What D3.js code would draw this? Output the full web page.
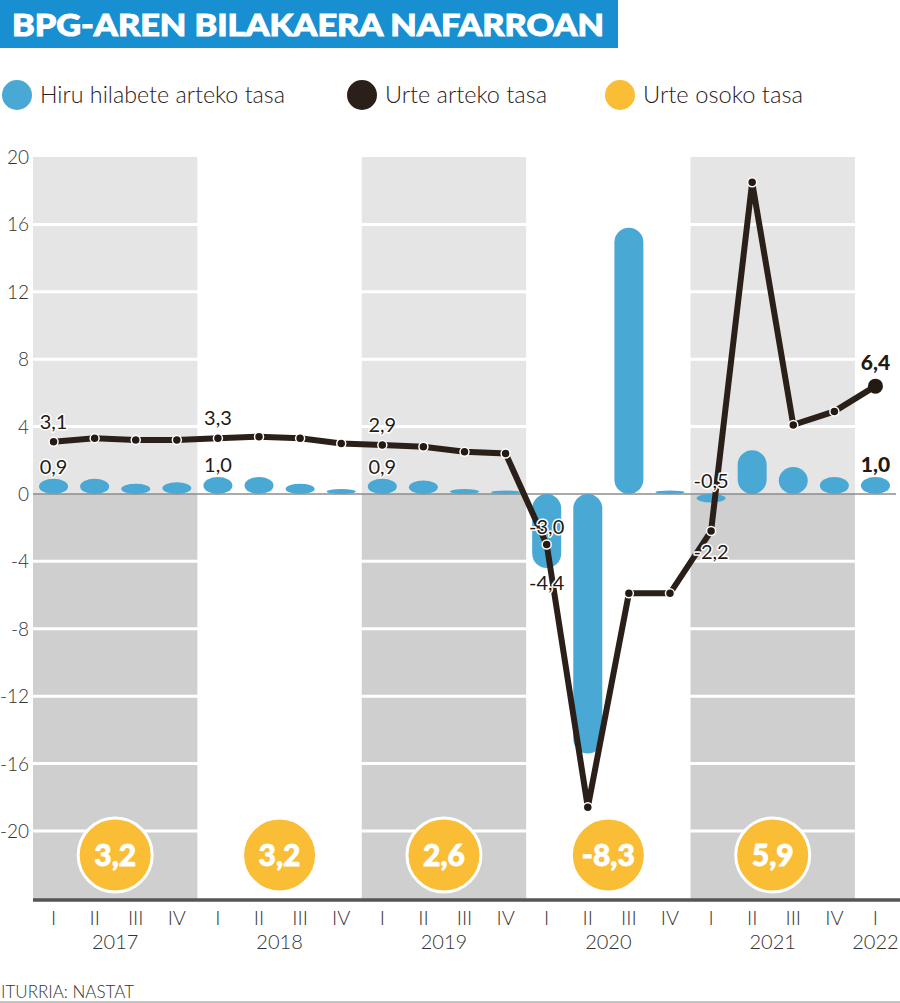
<!DOCTYPE html>
<html><head><meta charset="utf-8">
<script src="https://cdn.jsdelivr.net/npm/d3@7"></script>
<style>
body{margin:0;background:#fff;}
svg text{font-family:Lato,"Open Sans",sans-serif;}
</style></head>
<body><svg id="c" width="900" height="1003"></svg>
<script>
const quarters = ["I","II","III","IV","I","II","III","IV","I","II","III","IV","I","II","III","IV","I","II","III","IV","I"];
const years = ["2017","2018","2019","2020","2021","2022"];
const quarterly = [0.9,0.9,0.6,0.7, 1.0,1.0,0.6,0.3, 0.9,0.8,0.3,0.2, -4.4,-15.4,15.8,0.2, -0.5,2.6,1.6,1.0, 1.0];
const yearOnYear = [3.1,3.3,3.2,3.2, 3.3,3.4,3.3,3.0, 2.9,2.8,2.5,2.4, -3.0,-18.6,-5.9,-5.9, -2.2,18.5,4.1,4.9, 6.4];
const annual = [3.2,3.2,2.6,-8.3,5.9];
const yTicks = [20,16,12,8,4,0,-4,-8,-12,-16,-20];
const legendLabels = ["Hiru hilabete arteko tasa","Urte arteko tasa","Urte osoko tasa"];
const title = "BPG-AREN BILAKAERA NAFARROAN";
const source = "ITURRIA: NASTAT";

const C = {blue:"#4aa8d4", dark:"#2a2019", yellow:"#f9bd36", title:"#178fd1", bandUp:"#e5e5e5", bandDn:"#cfcfcf"};
const fmt = v => d3.format(".1f")(v).replace(".", ",").replace("−","-");

const svg = d3.select("#c");
const L = 33, R = 896, T = 157, B = 900;
const x = d3.scaleBand().domain(d3.range(quarters.length)).range([L, R]).padding(0);
const y = d3.scaleLinear().domain([-24.1, 20]).range([B, T]);
const bw = x.bandwidth();
const cx = i => x(i) + bw/2;

// title
svg.append("rect").attr("x",0).attr("y",0).attr("width",618).attr("height",48).attr("fill",C.title);
svg.append("text").attr("x",12).attr("y",36).attr("fill","#fff").attr("font-size",31).attr("font-weight",900)
  .attr("stroke","#fff").attr("stroke-width",1)
  .attr("textLength",592).attr("lengthAdjust","spacingAndGlyphs").text(title);

// legend
const legX = [17, 362, 620], legC = [C.blue, C.dark, C.yellow];
const legW = [245, 162, 160];
legendLabels.forEach((t,i)=>{
  svg.append("circle").attr("cx",legX[i]).attr("cy",95).attr("r",15).attr("fill",legC[i]);
  svg.append("text").attr("x",legX[i]+23).attr("y",103).attr("font-size",23).attr("fill","#2a2019")
    .attr("font-weight",300).attr("textLength",legW[i]).attr("lengthAdjust","spacingAndGlyphs").text(t);
});

// year bands (grey on alternating years)
const g = svg.append("g");
[0,2,4].forEach(k=>{
  const x0 = x(k*4), x1 = x(k*4+3)+bw;
  g.append("rect").attr("x",x0).attr("y",y(20)).attr("width",x1-x0).attr("height",y(0)-y(20)).attr("fill",C.bandUp);
  g.append("rect").attr("x",x0).attr("y",y(0)).attr("width",x1-x0).attr("height",B-y(0)).attr("fill",C.bandDn);
});
// gridlines
yTicks.filter(t=>t!==0 && t!==20).forEach(t=>{
  g.append("line").attr("x1",L).attr("x2",R).attr("y1",y(t)).attr("y2",y(t)).attr("stroke","#fff").attr("stroke-width",3);
});
// y labels
yTicks.forEach(t=>{
  svg.append("text").attr("x",29).attr("y",y(t)+7).attr("text-anchor","end").attr("font-size",19).attr("fill","#333")
    .attr("font-weight",300).text(t);
});
// zero line
svg.append("line").attr("x1",L).attr("x2",R).attr("y1",y(0)).attr("y2",y(0)).attr("stroke","#8c8c8c").attr("stroke-width",1.5);

// bars
const bwid = 29;
svg.append("g").selectAll("rect").data(quarterly).join("rect")
  .attr("x",(d,i)=>cx(i)-bwid/2).attr("width",bwid)
  .attr("y",d=>y(Math.max(0,d))).attr("height",d=>Math.abs(y(d)-y(0)))
  .attr("rx",bwid/2).attr("ry",bwid/2).attr("fill",C.blue);

// line
const line = d3.line().x((d,i)=>cx(i)).y(d=>y(d));
svg.append("path").datum(yearOnYear).attr("d",line).attr("fill","none").attr("stroke",C.dark).attr("stroke-width",6);
svg.append("g").selectAll("circle").data(yearOnYear).join("circle")
  .attr("cx",(d,i)=>cx(i)).attr("cy",d=>y(d))
  .attr("r",(d,i)=>i===yearOnYear.length-1?7.5:4.5)
  .attr("fill","#231a14").attr("stroke",(d,i)=>i===yearOnYear.length-1?"none":"#fff").attr("stroke-width",1.5);

// data labels
function lab(i, v, dy, bold){
  svg.append("text").attr("x",cx(i)).attr("y",dy).attr("text-anchor","middle").attr("font-size",bold?21:20)
    .attr("font-weight",bold?900:400).attr("fill","#231a14")
    .attr("stroke","#fff").attr("stroke-width",bold?0:3).attr("paint-order","stroke").attr("stroke-linejoin","round")
    .text(fmt(v));
}
[0,4,8].forEach(i=>{ lab(i, yearOnYear[i], y(yearOnYear[i])-13); lab(i, quarterly[i], y(quarterly[i])-5); });
lab(12, yearOnYear[12], y(yearOnYear[12])-11);
lab(12, quarterly[12], y(quarterly[12])+22);
lab(16, quarterly[16], y(0)-6);
lab(16, yearOnYear[16], y(yearOnYear[16])+28);
lab(20, yearOnYear[20], y(yearOnYear[20])-16, true);
lab(20, quarterly[20], y(quarterly[20])-5, true);

// annual circles
annual.forEach((v,k)=>{
  const xc = (x(k*4) + x(k*4+3)+bw)/2;
  svg.append("circle").attr("cx",xc).attr("cy",855).attr("r",37).attr("fill",C.yellow).attr("stroke","#fff").attr("stroke-width",3);
  svg.append("text").attr("x",xc).attr("y",866).attr("text-anchor","middle").attr("font-size",30).attr("font-weight",900)
    .attr("stroke","#fff").attr("stroke-width",0.8)
    .attr("fill","#fff").text(fmt(v));
});

// bottom axis
svg.append("line").attr("x1",L).attr("x2",900).attr("y1",B).attr("y2",B).attr("stroke","#555").attr("stroke-width",3.5);
quarters.forEach((q,i)=>{
  svg.append("text").attr("x",cx(i)).attr("y",925).attr("text-anchor","middle").attr("font-size",20).attr("font-weight",300)
    .attr("fill","#333").text(q);
});
years.forEach((yr,k)=>{
  const xc = k<5 ? (x(k*4) + x(k*4+3)+bw)/2 : cx(20);
  svg.append("text").attr("x",xc).attr("y",949).attr("text-anchor","middle").attr("font-size",20).attr("font-weight",300)
    .attr("fill","#333").text(yr);
});

// source
svg.append("text").attr("x",1).attr("y",998).attr("font-size",17).attr("font-weight",300).attr("fill","#333").text(source);
svg.append("line").attr("x1",0).attr("x2",900).attr("y1",1002).attr("y2",1002).attr("stroke","#888").attr("stroke-width",1);
</script></body></html>
